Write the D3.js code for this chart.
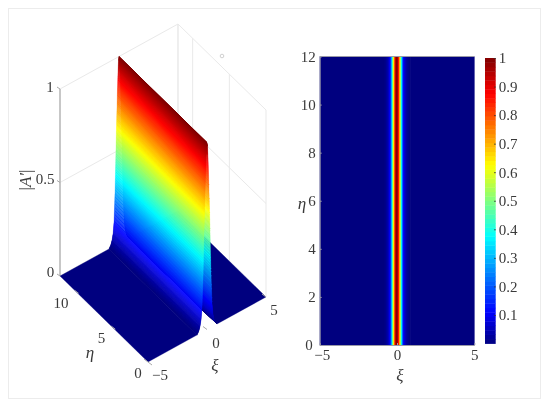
<!DOCTYPE html>
<html><head><meta charset="utf-8">
<script src="https://cdn.jsdelivr.net/npm/d3@7"></script>
<style>
html,body{margin:0;padding:0;background:#fff}
svg{display:block;filter:blur(0.55px)}
text{font-family:"Liberation Serif",serif;fill:#3a3a3a;font-size:15px}
.it{font-style:italic}
</style></head><body>
<svg id="c" width="550" height="405"></svg>
<script>
// cross-section of the ridge
const xiValues  = [-5,-0.85,-0.7,-0.6,-0.5,-0.42,-0.33,-0.26,-0.2,-0.14,-0.08,-0.04,0,0.04,0.08,0.14,0.2,0.26,0.33,0.42,0.5,0.6,0.7,0.85,5];
const ampValues = [0,0,0.015,0.035,0.07,0.13,0.3,0.5,0.66,0.8,0.93,0.98,1,0.98,0.93,0.8,0.66,0.5,0.3,0.13,0.07,0.035,0.015,0,0];
const etaRange = [0,12];
const xiTicks = [-5,0,5];
const etaTicks3d = [0,5,10];
const zTicks = [0,0.5,1];
const zLabels = ["0","0.5","1"];
const xiLabels = ["\u22125","0","5"];
const etaTicks2d = [0,2,4,6,8,10,12];
const cbTicks = [0.1,0.2,0.3,0.4,0.5,0.6,0.7,0.8,0.9,1];
const jetStops = [0,0.11,0.375,0.625,0.875,1];
const jetColors = ["#00007f","#0000ff","#00ffff","#ffff00","#ff0000","#7f0000"];

const svg = d3.select("#c");
const jet = d3.scaleLinear().domain(jetStops).range(jetColors).clamp(true);

// smooth shading: subdivide each profile segment into thin strips
const strips = [];
for (let i = 0; i < xiValues.length - 1; i++) {
  const n = (xiValues[i+1]-xiValues[i]) > 1 ? 1 : 24;
  for (let k = 0; k < n; k++) {
    const f0 = k/n, f1 = (k+1)/n;
    strips.push({
      x0: xiValues[i] + (xiValues[i+1]-xiValues[i])*f0,
      x1: xiValues[i] + (xiValues[i+1]-xiValues[i])*f1,
      z0: ampValues[i] + (ampValues[i+1]-ampValues[i])*f0,
      z1: ampValues[i] + (ampValues[i+1]-ampValues[i])*f1
    });
  }
}

// frame
svg.append("rect").attr("x",8.5).attr("y",8.5).attr("width",532).attr("height",390)
  .attr("fill","#fff").attr("stroke","#ececec").attr("stroke-width",1);

// ---- 3D panel ----
const origin = [148,362];
const xiX = d3.scaleLinear().domain([-5,5]).range([0,118]);
const xiY = d3.scaleLinear().domain([-5,5]).range([0,-65]);
const etaX = d3.scaleLinear().domain(etaRange).range([0,-88]);
const etaY = d3.scaleLinear().domain(etaRange).range([0,-86]);
const zY = d3.scaleLinear().domain([0,1]).range([0,-187]);
const P = (xi,eta,z) => [origin[0]+xiX(xi)+etaX(eta), origin[1]+xiY(xi)+etaY(eta)+zY(z)];
const seg = (g,a,b,col,w) => g.append("line").attr("x1",a[0]).attr("y1",a[1]).attr("x2",b[0]).attr("y2",b[1])
  .attr("stroke",col).attr("stroke-width",w);

const grid = svg.append("g");
const light = "#e9e9e9";
// back walls
etaTicks3d.concat([12]).forEach(e => seg(grid,P(5,e,0),P(5,e,1),light,1));
zTicks.forEach(z => {
  seg(grid,P(-5,12,z),P(5,12,z),light,1);
  seg(grid,P(5,12,z),P(5,0,z),light,1);
});
xiTicks.forEach(x => seg(grid,P(x,12,0),P(x,12,1),light,1));
seg(grid,P(-5,12,0),P(-5,12,1),"#a8a8a8",1.2);
svg.append("circle").attr("cx",222).attr("cy",56).attr("r",1.8).attr("fill","none").attr("stroke","#d0d0d0");

// surface, painted from far to near
const surf = svg.append("g");
surf.selectAll("polygon").data(strips.slice().reverse()).join("polygon")
  .attr("points", d => [P(d.x0,0,d.z0),P(d.x1,0,d.z1),P(d.x1,12,d.z1),P(d.x0,12,d.z0)].join(" "))
  .attr("fill", d => jet((d.z0+d.z1)/2))
  .attr("stroke", d => jet((d.z0+d.z1)/2))
  .attr("stroke-width",0.3);

// 3D ticks
const ticks3 = svg.append("g");
const off = (p,dx,dy) => [p[0]+dx,p[1]+dy];
zTicks.forEach(z => seg(ticks3,P(-5,12,z),off(P(-5,12,z),-3,-2),"#a8a8a8",1));
etaTicks3d.forEach(e => seg(ticks3,P(-5,e,0),off(P(-5,e,0),4,3),"#a8a8a8",1));
xiTicks.forEach(x => seg(ticks3,P(x,0,0),off(P(x,0,0),-4,-3),"#a8a8a8",1));

const lab = (x,y,t,cls,size,anchor) => svg.append("text").attr("x",x).attr("y",y)
  .attr("text-anchor",anchor||"middle").attr("dominant-baseline","central")
  .attr("class",cls||null).style("font-size",size?size+"px":null).text(t);

const zLabelPos = [[50.5,272],[45,179],[50,87]];
zTicks.forEach((z,i) => lab(zLabelPos[i][0],zLabelPos[i][1],zLabels[i]));
const etaLabelPos = [[138,373],[101.5,338],[61,303]];
etaTicks3d.forEach((e,i) => lab(etaLabelPos[i][0],etaLabelPos[i][1],String(e)));
const xiLabelPos = [[160,375],[216,343],[274,310]];
xiTicks.forEach((x,i) => lab(xiLabelPos[i][0],xiLabelPos[i][1],xiLabels[i]));
lab(90,352,"\u03b7","it",17);
lab(215,365,"\u03be","it",17);
const yl = svg.append("text").attr("transform","translate(25,180) rotate(-90)")
  .attr("text-anchor","middle").attr("dominant-baseline","central").style("font-size","17px");
yl.append("tspan").text("|");
yl.append("tspan").attr("class","it").text("A\u2032");
yl.append("tspan").text("|");

// ---- heat map ----
const hx = d3.scaleLinear().domain([-5,5]).range([319.7,474.3]);
const hy = d3.scaleLinear().domain(etaRange).range([345,56.5]);
svg.append("g").selectAll("rect").data(strips).join("rect")
  .attr("x", d => hx(d.x0)).attr("width", d => hx(d.x1)-hx(d.x0)+0.3)
  .attr("y", hy(12)).attr("height", hy(0)-hy(12))
  .attr("fill", d => jet((d.z0+d.z1)/2));

const ax2y = svg.append("g").attr("transform",`translate(${hx(-5)},0)`)
  .call(d3.axisLeft(hy).tickValues(etaTicks2d).tickSizeInner(-2).tickSizeOuter(0).tickPadding(4));
const ax2x = svg.append("g").attr("transform",`translate(0,${hy(0)})`)
  .call(d3.axisBottom(hx).tickValues(xiTicks).tickSizeInner(-2).tickSizeOuter(0).tickPadding(3).tickFormat((d,i) => xiLabels[i]));
[ax2y,ax2x].forEach(a => {
  a.selectAll("path,line").attr("stroke","#9a9aa8");
  a.selectAll("text").style("font-size","15px").attr("fill",null);
});
ax2x.selectAll("text").attr("dy","0.8em");
ax2x.selectAll("text").filter((d,i) => i===0).attr("dx","2");
ax2y.selectAll("text").filter(d => d===0).attr("dx","-3");
svg.append("line").attr("x1",hx(-5)).attr("x2",hx(5)).attr("y1",hy(12)).attr("y2",hy(12)).attr("stroke","#9a9aa8");
lab(400,375,"\u03be","it",17);
lab(302,203,"\u03b7","it",17);

// ---- colour bar ----
const cy = d3.scaleLinear().domain([0,1]).range([343.5,58]);
const cbLevels = d3.range(0,1,1/64);
svg.append("g").selectAll("rect").data(cbLevels).join("rect")
  .attr("x",485).attr("width",10.7)
  .attr("y", d => cy(d+1/64)).attr("height", d => cy(d)-cy(d+1/64)+0.4)
  .attr("fill", d => jet(d+1/128));
const cbAxis = svg.append("g").attr("transform","translate(495.7,0)")
  .call(d3.axisRight(cy).tickValues(cbTicks).tickSizeInner(-1.5).tickSizeOuter(0).tickPadding(3).tickFormat(d => d===1?"1":d3.format(".1f")(d)));
cbAxis.select("path").attr("stroke","none");
cbAxis.selectAll("line").attr("stroke","#333");
cbAxis.selectAll("text").style("font-size","15px").attr("fill",null);
</script>
</body></html>
